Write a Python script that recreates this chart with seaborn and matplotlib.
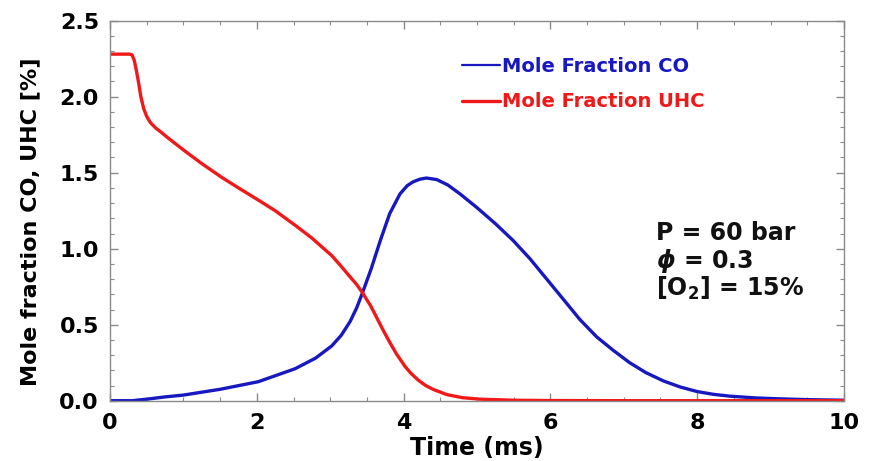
import numpy as np
import pandas as pd
import matplotlib
matplotlib.use("Agg")
import matplotlib.pyplot as plt
import seaborn as sns
from matplotlib.ticker import MultipleLocator, FormatStrFormatter
from matplotlib.lines import Line2D

# ---- data ----
time_uhc = [0, 0.27, 0.30, 0.33, 0.36, 0.39, 0.42, 0.46, 0.5, 0.55, 0.62, 0.7, 0.8, 1.0,
            1.25, 1.52, 1.75, 2.02, 2.25, 2.52, 2.75, 3.02, 3.13, 3.27, 3.36, 3.44, 3.55,
            3.63, 3.72, 3.81, 3.9, 4.02, 4.1, 4.2, 4.3, 4.4, 4.59, 4.8, 5.04, 5.5, 6, 7, 8, 9, 10]
mole_uhc = [2.28, 2.28, 2.275, 2.24, 2.17, 2.09, 2.0, 1.92, 1.87, 1.83, 1.795, 1.765, 1.725, 1.65,
            1.56, 1.47, 1.40, 1.32, 1.25, 1.155, 1.07, 0.955, 0.895, 0.815, 0.765, 0.71, 0.625,
            0.55, 0.465, 0.385, 0.31, 0.225, 0.18, 0.135, 0.10, 0.075, 0.04, 0.02, 0.01,
            0.003, 0.001, 0, 0, 0, 0]

time_co = [0, 0.3, 0.5, 0.75, 1.0, 1.5, 2.02, 2.52, 2.8, 3.02, 3.15, 3.27, 3.36, 3.44, 3.56,
           3.68, 3.81, 3.95, 4.05, 4.13, 4.22, 4.31, 4.45, 4.6, 4.77, 5.0, 5.25, 5.49, 5.72,
           5.95, 6.18, 6.4, 6.63, 6.86, 7.08, 7.3, 7.54, 7.77, 8.0, 8.22, 8.44, 8.8, 9.13,
           9.5, 10]
mole_co = [0, 0, 0.01, 0.025, 0.037, 0.075, 0.125, 0.21, 0.28, 0.36, 0.43, 0.52, 0.61, 0.71,
           0.87, 1.05, 1.23, 1.36, 1.415, 1.44, 1.457, 1.465, 1.455, 1.42, 1.36, 1.27, 1.165,
           1.055, 0.935, 0.80, 0.665, 0.535, 0.42, 0.33, 0.25, 0.185, 0.13, 0.09, 0.06, 0.042,
           0.03, 0.018, 0.012, 0.007, 0.003]

series_names = ["Mole Fraction CO", "Mole Fraction UHC"]
annot_lines = ["P = 60 bar", r"$\mathit{\phi}$ = 0.3", r"[O$_2$] = 15%"]

df = pd.concat([
    pd.DataFrame({"Time": time_co, "Mole": mole_co, "series": series_names[0]}),
    pd.DataFrame({"Time": time_uhc, "Mole": mole_uhc, "series": series_names[1]}),
])

sns.set_theme(style="ticks")
plt.rcParams["font.family"] = ["DejaVu Sans"]
plt.rcParams["font.weight"] = "bold"
plt.rcParams["mathtext.default"] = "bf"
plt.rcParams["text.color"] = "black"
plt.rcParams["axes.labelcolor"] = "black"
plt.rcParams["xtick.labelcolor"] = "black"
plt.rcParams["ytick.labelcolor"] = "black"

blue = "#1818c0"
red = "#f01818"

fig = plt.figure(figsize=(8.69, 4.61), dpi=100)
ax = fig.add_axes([0.1266, 0.1308, 0.8446, 0.8243])

sns.lineplot(data=df, x="Time", y="Mole", hue="series",
             palette={series_names[0]: blue, series_names[1]: red},
             linewidth=2.4, sort=True, estimator=None, ax=ax, legend=False)

ax.set_xlim(0, 10)
ax.set_ylim(0, 2.5)
ax.xaxis.set_major_locator(MultipleLocator(2))
ax.xaxis.set_minor_locator(MultipleLocator(0.5))
ax.yaxis.set_major_locator(MultipleLocator(0.5))
ax.yaxis.set_minor_locator(MultipleLocator(0.1))
ax.xaxis.set_major_formatter(FormatStrFormatter("%d"))
ax.yaxis.set_major_formatter(FormatStrFormatter("%.1f"))

for s in ax.spines.values():
    s.set_color("#8a8a8a")
    s.set_linewidth(1.0)
    s.set_visible(True)
ax.tick_params(which="both", direction="in", top=True, right=True, color="#8a8a8a")
ax.tick_params(which="major", length=6, width=1.0)
ax.tick_params(which="minor", length=3, width=0.8)
ax.tick_params(axis="x", which="major", labelsize=16, pad=9, labelcolor="black")
ax.tick_params(axis="y", which="major", labelsize=16, pad=8, labelcolor="black")
for lab in ax.get_xticklabels() + ax.get_yticklabels():
    lab.set_fontweight("bold")

ax.set_xlabel("Time (ms)", fontsize=17, fontweight="bold", labelpad=2, color="black")
ax.set_ylabel("Mole fraction CO, UHC [%]", fontsize=16, fontweight="bold", color="black")
ax.yaxis.set_label_coords(-0.095, 0.47)

handles = [Line2D([], [], color=blue, lw=1.6), Line2D([], [], color=red, lw=2.4)]
leg = ax.legend(handles, series_names, loc="upper left", bbox_to_anchor=(0.479, 0.905),
                frameon=False, fontsize=14, handlelength=2.0, handletextpad=0.1,
                labelspacing=0.85, borderpad=0, borderaxespad=0)
for txt, c in zip(leg.get_texts(), [blue, red]):
    txt.set_color(c)
    txt.set_fontweight("bold")

for i, line in enumerate(annot_lines):
    ax.text(7.44, 1.06 - i * 0.185, line, fontsize=17, fontweight="bold",
            ha="left", va="baseline", color="#111111")

fig.savefig("out.png", dpi=100)
